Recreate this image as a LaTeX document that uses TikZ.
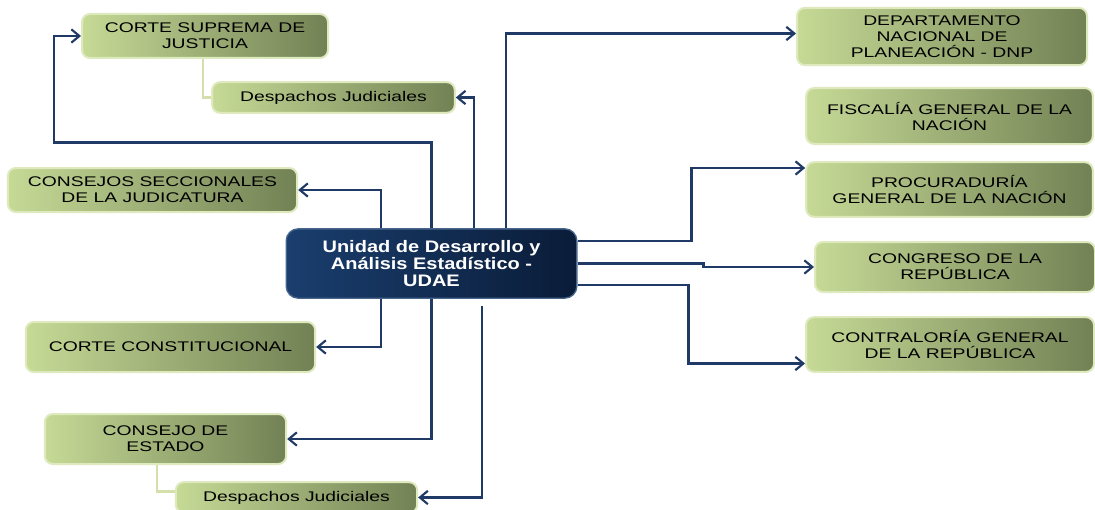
\documentclass[tikz,border=0pt]{standalone}
\usepackage{fontspec}
\setmainfont{Liberation Sans}
\newfontfamily\boxfont[FakeStretch=1.38]{Liberation Sans}
\newfontfamily\udaefont[FakeStretch=1.2]{Liberation Sans}
\usetikzlibrary{arrows.meta,calc,backgrounds}
\definecolor{boxlight}{RGB}{198,218,150}
\definecolor{boxdark}{RGB}{114,129,84}
\definecolor{boxrim}{RGB}{222,234,190}
\definecolor{navylight}{RGB}{26,62,110}
\definecolor{navydark}{RGB}{10,28,56}
\definecolor{linkblue}{RGB}{31,58,102}
\begin{document}
\begin{tikzpicture}[x=0.75pt,y=-0.75pt,
  entity/.style={rectangle,rounded corners=6pt,left color=boxlight,right color=boxdark,draw=boxrim,line width=1.5pt,align=center,inner sep=2pt,font=\boxfont\fontsize{10.5}{12}\selectfont},
  unit/.style={rectangle,rounded corners=9pt,left color=navylight,right color=navydark,draw=navylight!80!white,line width=1pt,text=white,align=center,font=\udaefont\bfseries\fontsize{12.5}{12.5}\selectfont},
  link/.style={draw=linkblue,line width=2.2pt,-{Straight Barb[length=6pt,width=10pt,line width=1.6pt]}},
  tie/.style={draw=boxrim!90!olive,line width=2.2pt}]
\useasboundingbox (0,0) rectangle (1095,510);
% left side
\node[entity,minimum width=184.5pt,minimum height=33pt] (cs) at (205,36) {CORTE SUPREMA DE\\JUSTICIA};
\node[entity,minimum width=182pt,minimum height=23pt] (dj1) at (333.5,97.5) {Despachos Judiciales};
\node[entity,minimum width=217pt,minimum height=33pt] (csj) at (152.5,190) {CONSEJOS SECCIONALES\\DE LA JUDICATURA};
\node[entity,minimum width=217pt,minimum height=37.5pt] (cc) at (170.5,347) {CORTE CONSTITUCIONAL};
\node[entity,minimum width=181pt,minimum height=37.5pt] (ce) at (165.5,439) {CONSEJO DE\\ESTADO};
\node[entity,minimum width=181pt,minimum height=23pt] (dj2) at (296.5,497.5) {Despachos Judiciales};
% centre
\node[unit,minimum width=218pt,minimum height=52pt] (udae) at (431.5,263.5) {Unidad de Desarrollo y\\Análisis Estadístico -\\UDAE};
% right side
\node[entity,minimum width=217.5pt,minimum height=43pt] (dnp) at (942,36.5) {DEPARTAMENTO\\NACIONAL DE\\PLANEACIÓN - DNP};
\node[entity,minimum width=215pt,minimum height=42pt] (fgn) at (949.5,116) {FISCALÍA GENERAL DE LA\\NACIÓN};
\node[entity,minimum width=215pt,minimum height=41pt] (pgn) at (949.5,189.5) {PROCURADURÍA\\GENERAL DE LA NACIÓN};
\node[entity,minimum width=210pt,minimum height=37.5pt] (crp) at (955,267) {CONGRESO DE LA\\REPÚBLICA};
\node[entity,minimum width=216pt,minimum height=41pt] (cgr) at (950,344.5) {CONTRALORÍA GENERAL\\DE LA REPÚBLICA};
% ties between offices
\begin{scope}[on background layer]
\draw[tie] ($(cs.south)+(-2,0)$) |- (dj1.west);
\draw[tie] ($(ce.south)+(-8.5,0)$) |- ($(dj2.west)+(0,-6)$);
\end{scope}
% links from UDAE
\draw[link] (udae.north) -- ++(0,-86) -| ($(cs.west)+(-27,0)$) -- (cs.west);
\draw[link] ($(udae.north)+(42.5,0)$) |- (dj1.east);
\draw[link] ($(udae.north)+(-50.5,0)$) |- (csj.east);
\draw[link] ($(udae.north)+(74.5,0)$) |- ($(dnp.west)+(0,-3)$);
\draw[link] ($(udae.east)+(0,-22.5)$) -- ++(114,0) |- ($(pgn.west)+(0,-21.5)$);
\draw[link] (udae.east) -- ++(126,0) |- (crp.west);
\draw[link] ($(udae.east)+(0,21.5)$) -- ++(111,0) |- ($(cgr.west)+(0,19)$);
\draw[link] ($(udae.south)+(-50.5,0)$) |- (cc.east);
\draw[link] (udae.south) |- (ce.east);
\draw[link] ($(udae.south)+(50.5,7)$) |- (dj2.east);
\end{tikzpicture}
\end{document}
